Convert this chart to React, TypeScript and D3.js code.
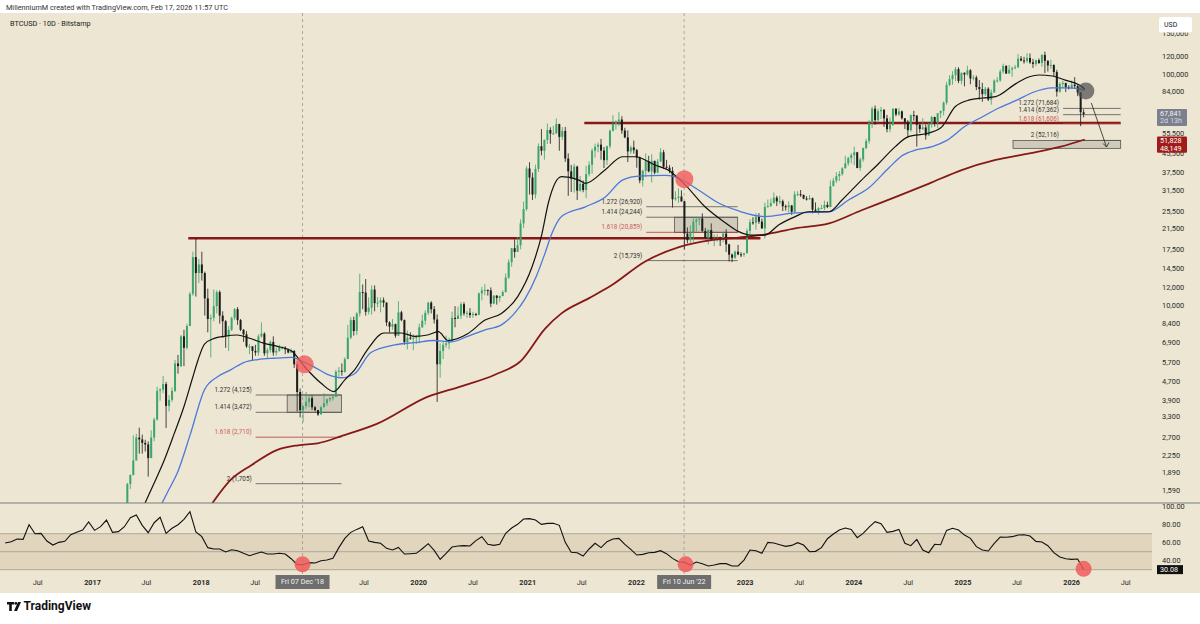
import React from 'react'
import * as d3 from 'd3'

// [high, low, close] per 10-day bar; open is previous close
type Bar = [number, number, number]

const FIRST_BAR = '2017-04-18'
const FIRST_OPEN = 1190
const BAR_DAYS = 10

const bars2017: Bar[] = [
  [1340, 1190, 1330], [1720, 1300, 1700], [1870, 1620, 1860], [2760, 1850, 2150], [2800, 2150, 2700],
  [2980, 2300, 2650], [2780, 2300, 2560], [2640, 2350, 2520], [2600, 1830, 2200], [2900, 2200, 2700],
  [3290, 2600, 3230], [4480, 3200, 4300], [4420, 3900, 4350], [4980, 4200, 4600], [4700, 2970, 3700],
  [4120, 3500, 3930], [4450, 3850, 4300], [5850, 4250, 5650], [6150, 5100, 5500], [7500, 5450, 7400],
  [7900, 5500, 6600], [8400, 6500, 8200], [11500, 8900, 11300], [17200, 11100, 16300], [19666, 11000, 13900],
  [16000, 12600, 15150],
]
const bars2018: Bar[] = [
  [17200, 12900, 13900], [14100, 9100, 10800], [11900, 7700, 8800], [9200, 6000, 8900], [11800, 8600, 10000],
  [11700, 9300, 11500], [11700, 8400, 9100], [9500, 7300, 8600], [8700, 6600, 7400], [8200, 6400, 7900],
  [9000, 7800, 8900], [9800, 8700, 9700], [9900, 8300, 8700], [8800, 7800, 7900], [7950, 7000, 7550],
  [7800, 6600, 6700], [6850, 6200, 6700], [6700, 5800, 6400], [6800, 6100, 6300], [7550, 6100, 7400],
  [8500, 7300, 7600], [7700, 6100, 6250], [6600, 5900, 6450], [7100, 6300, 7000], [7400, 6100, 6300],
  [6600, 6100, 6400], [6800, 6350, 6600], [6700, 6500, 6600], [6700, 6200, 6500], [6550, 6250, 6300],
  [6550, 6250, 6400], [6450, 5400, 5600], [5600, 3500, 4250], [4400, 3300, 3550], [3700, 3150, 3700],
  [4250, 3600, 3850], [4100, 3650, 4000],
]
const bars2019: Bar[] = [
  [4100, 3550, 3650], [3700, 3500, 3550], [3550, 3350, 3400], [3700, 3400, 3650], [4200, 3650, 3800],
  [3980, 3700, 3950], [4050, 3850, 4000], [4100, 3900, 4050], [5300, 4050, 5200], [5450, 4950, 5250],
  [5650, 5000, 5200], [6000, 5150, 5900], [8300, 5900, 7300], [8950, 7200, 8700], [9000, 7450, 7800],
  [9400, 7500, 9300], [13800, 9000, 11500], [12400, 9700, 11450], [13100, 9100, 9450], [10900, 9200, 9850],
  [12300, 9200, 11800], [12300, 9500, 10300], [10950, 9900, 10350], [10900, 9400, 10600], [10900, 9900, 10350],
  [10400, 8200, 8500], [8600, 7700, 8150], [8800, 7900, 8350], [8400, 7300, 7450], [10500, 7450, 9400],
  [9550, 8600, 8700], [8750, 6800, 7000], [7850, 6500, 7300], [7700, 7150, 7250], [7550, 6450, 7300],
  [7500, 6850, 7350],
]
const bars2020: Bar[] = [
  [8400, 6900, 8100], [9200, 8050, 8650], [9600, 8300, 9350], [10450, 9150, 10350], [10500, 9300, 9700],
  [10000, 8400, 8750], [9200, 3850, 5600], [6900, 4900, 6400], [7000, 5900, 6800], [7450, 6600, 6900],
  [7300, 6500, 7100], [9450, 7000, 8900], [10000, 8100, 8800], [9950, 8800, 9100], [10400, 8800, 10200],
  [10400, 9100, 9300], [9550, 8900, 9350], [9800, 8900, 9150], [9450, 8900, 9250], [9350, 9050, 9170],
  [11450, 9150, 11350], [12100, 10600, 11700], [12450, 11150, 11750], [11800, 11100, 11700], [12050, 9900, 10250],
  [11150, 10200, 11100], [11150, 10150, 10850], [11100, 10400, 11050], [11700, 11050, 11500], [13850, 11450, 13300],
  [15950, 13100, 15500], [17850, 14800, 17800], [19450, 16200, 17150], [19900, 17600, 18350], [23750, 17600, 22800],
  [28350, 21800, 26300], [40300, 25850, 39400],
]
const bars2021: Bar[] = [
  [41950, 30400, 36000], [37800, 28800, 30400], [40900, 29250, 39250], [50550, 38050, 49200], [58350, 44900, 47000],
  [52600, 43000, 52400], [61700, 50300, 57800], [59400, 50400, 55800], [60200, 55000, 56000], [64850, 55500, 61350],
  [61500, 47000, 54000], [59500, 52300, 57300], [59600, 42100, 43500], [45800, 30000, 38300], [40800, 31200, 35600],
  [41300, 31000, 40150], [40500, 28800, 31600], [36500, 31300, 33800], [35000, 31100, 31800], [40500, 29300, 37250],
  [42300, 36400, 40850], [48100, 37400, 47050], [50500, 43900, 48900], [51000, 46400, 49950], [52900, 43000, 47100],
  [48800, 39600, 42800], [49500, 40800, 49200], [58000, 48100, 57400], [67000, 56900, 61300], [63700, 58000, 63000],
  [69000, 60100, 64150], [66300, 55600, 57500], [59100, 53300, 53700], [57600, 42000, 46700], [49500, 45600, 48600],
  [52000, 45700, 47300],
]
const bars2022: Bar[] = [
  [47900, 39700, 43900], [44400, 34000, 35000], [38900, 32950, 38500], [45800, 36300, 42400], [44700, 37900, 38300],
  [45400, 34300, 42500], [42600, 37200, 37800], [43300, 37600, 42300], [48200, 42000, 46300], [47400, 39200, 40100],
  [42900, 39300, 39700], [40800, 37600, 38500], [40000, 26700, 29000], [31400, 28600, 29400], [32300, 28000, 29800],
  [31700, 28300, 28400], [28500, 17600, 20600], [21900, 18700, 19300], [22400, 18800, 20800], [24200, 19000, 23200],
  [24400, 21000, 23650], [24200, 22400, 23950], [25200, 20900, 21150], [21800, 19550, 19800], [21500, 18500, 21350],
  [22800, 19300, 19400], [20400, 18150, 19400], [20450, 19000, 19450], [19950, 18200, 19350], [21000, 18900, 20600],
  [21500, 17150, 18500], [18600, 15600, 16700], [16900, 15500, 16200], [17400, 16000, 17200], [18400, 16600, 16750],
  [17100, 16300, 16700], [16950, 16350, 16950],
]
const bars2023: Bar[] = [
  [21650, 16900, 21150], [23800, 20400, 23050], [24250, 22500, 22950], [25250, 21400, 24350], [25250, 22700, 23200],
  [23900, 21600, 21700], [28000, 19600, 26900], [28900, 26600, 27150], [29200, 26800, 27900], [31000, 27800, 29450],
  [30000, 27100, 28400], [30000, 27700, 28450], [28900, 25800, 27050], [27500, 25900, 26800], [28450, 25400, 27250],
  [27400, 24800, 25600], [31400, 25300, 30450], [31400, 29900, 30500], [31800, 29700, 30300], [30350, 29000, 29200],
  [29900, 28650, 29050], [30200, 28800, 29300], [29500, 25200, 26150], [28100, 25400, 25850], [26800, 24900, 26550],
  [27450, 26350, 26550], [28600, 26000, 27400], [28300, 26550, 26850], [35000, 26800, 33000], [35900, 33400, 34900],
  [37950, 34100, 36500], [38400, 34750, 37300], [39900, 36700, 39450], [44700, 39600, 41450], [44300, 40500, 43700],
  [45900, 41500, 45000],
]
const bars2024: Bar[] = [
  [49000, 40750, 46300], [46500, 39500, 39600], [43900, 38500, 43100], [48600, 42100, 48300], [53000, 47700, 51800],
  [64000, 50500, 62000], [72900, 59000, 71500], [73800, 60800, 63800], [71500, 62300, 69700], [72800, 64500, 70600],
  [71300, 59600, 64900], [67200, 56500, 58300], [65500, 56500, 60800], [71900, 60200, 71400], [71900, 66300, 67500],
  [71950, 66500, 69600], [70200, 64100, 65000], [65000, 58400, 62700], [63800, 53500, 57700], [67400, 56900, 67100],
  [70000, 63400, 66800], [66900, 49000, 60900], [62000, 56200, 58400], [65000, 57800, 59300], [61100, 52500, 54800],
  [61800, 54600, 61700], [66500, 59200, 65800], [66000, 59800, 62200], [68400, 58900, 68300], [70200, 65200, 69900],
  [76900, 66800, 75900], [93500, 74400, 90600], [99700, 89500, 96000], [103900, 90800, 99800], [108300, 94200, 106000],
  [108000, 92200, 94300], [102500, 91300, 102200],
]
const bars2025: Bar[] = [
  [102700, 89300, 100500], [109600, 99500, 104800], [106000, 91200, 96600], [100000, 94800, 97500], [99400, 86000, 88700],
  [95000, 78200, 86900], [92500, 76600, 82600], [88800, 81200, 87200], [88500, 77100, 78300], [86500, 74400, 84000],
  [95700, 83800, 94600], [97900, 92800, 94700], [105700, 93400, 103500], [111900, 101500, 109400], [110400, 101000, 101500],
  [110500, 101100, 105500], [108900, 98200, 107000], [110500, 106000, 108000], [123200, 107500, 117700], [120800, 114700, 115500],
  [119800, 112000, 115000], [124400, 112800, 118500], [124000, 111700, 113400], [117400, 107300, 111700], [116300, 109300, 115900],
  [117900, 111600, 112700], [122900, 108600, 122200], [126200, 102000, 115100], [116000, 103500, 110000], [116400, 106300, 110500],
  [111200, 98900, 103000], [105300, 80600, 84700], [93100, 83800, 91400], [94600, 87600, 92500], [90600, 84400, 88500],
  [90400, 86600, 87500],
]
const bars2026: Bar[] = [
  [94700, 87200, 90800], [97900, 87200, 89500], [90500, 81000, 84000], [84500, 60100, 69000], [71000, 65500, 67841],
]

// moving averages: [decimal year, price]
const maBlack: [number, number][] = [
  [2017.45, 1300], [2017.55, 1650], [2017.66, 2160], [2017.75, 2800], [2017.84, 3670], [2017.92, 4900],
  [2017.97, 5850], [2018.03, 6850], [2018.12, 7250], [2018.21, 7400], [2018.33, 7500], [2018.43, 7300],
  [2018.58, 6900], [2018.7, 6700], [2018.83, 6400], [2018.96, 5400], [2019.1, 4650], [2019.22, 4270],
  [2019.32, 4800], [2019.41, 5300], [2019.53, 6500], [2019.68, 7650], [2019.84, 7650], [2019.96, 7400],
  [2020.08, 7500], [2020.18, 7750], [2020.27, 7100], [2020.45, 7600], [2020.61, 8700], [2020.76, 9300],
  [2020.91, 11000], [2021.04, 14800], [2021.13, 20500], [2021.19, 28000], [2021.31, 36300], [2021.47, 35100],
  [2021.53, 34000], [2021.71, 38800], [2021.87, 44300], [2021.99, 44300], [2022.17, 40800], [2022.29, 38800],
  [2022.45, 33400], [2022.63, 26900], [2022.82, 22900], [2022.94, 21000], [2023.05, 20300], [2023.18, 20300],
  [2023.31, 22500], [2023.46, 24400], [2023.58, 25600], [2023.77, 25600], [2023.89, 28800], [2024.07, 35100],
  [2024.23, 41500], [2024.38, 49000], [2024.5, 54100], [2024.69, 56100], [2024.81, 59800], [2024.93, 72900],
  [2025.06, 78000], [2025.18, 79500], [2025.3, 80600], [2025.49, 92000], [2025.61, 98300], [2025.7, 100000],
  [2025.82, 99000], [2025.94, 95000], [2026.07, 90500], [2026.12, 87000],
]
const maBlue: [number, number][] = [
  [2017.62, 1350], [2017.7, 1600], [2017.78, 1900], [2017.9, 2800], [2018.03, 4350], [2018.15, 4950],
  [2018.27, 5300], [2018.39, 5700], [2018.52, 5870], [2018.67, 5950], [2018.83, 6000], [2018.92, 5800],
  [2019.04, 5450], [2019.16, 5070], [2019.29, 4900], [2019.41, 5100], [2019.56, 6300], [2019.78, 6800],
  [2019.96, 6950], [2020.14, 7100], [2020.3, 7000], [2020.45, 7400], [2020.61, 7900], [2020.76, 8300],
  [2020.88, 9300], [2020.98, 10800], [2021.08, 13500], [2021.16, 17000], [2021.22, 20500], [2021.31, 24400],
  [2021.53, 26900], [2021.71, 29600], [2021.87, 35100], [2022.02, 36500], [2022.26, 36800], [2022.35, 36300],
  [2022.57, 31800], [2022.75, 28000], [2022.94, 25800], [2023.18, 24400], [2023.46, 25300], [2023.77, 25600],
  [2023.95, 28800], [2024.14, 32600], [2024.32, 39600], [2024.45, 45000], [2024.57, 47400], [2024.72, 49000],
  [2024.85, 52000], [2025.02, 60000], [2025.18, 66000], [2025.33, 72000], [2025.5, 78000], [2025.64, 84000],
  [2025.82, 88000], [2025.98, 88000], [2026.12, 86000],
]
const maRed: [number, number][] = [
  [2018.1, 1400], [2018.27, 1770], [2018.46, 2050], [2018.7, 2390], [2018.89, 2500], [2019.07, 2550],
  [2019.3, 2750], [2019.62, 3100], [2020.08, 4050], [2020.39, 4500], [2020.7, 5050], [2020.94, 5800],
  [2021.16, 8000], [2021.31, 9300], [2021.56, 10800], [2021.77, 12300], [2022.08, 15600], [2022.39, 18000],
  [2022.69, 19300], [2022.94, 19800], [2023.18, 20400], [2023.46, 21700], [2023.77, 22800], [2024.07, 26000],
  [2024.38, 29600], [2024.69, 33900], [2024.99, 38800], [2025.3, 42900], [2025.61, 45800], [2025.9, 49000],
  [2026.12, 52600],
]

// RSI, one reading every 20 days
const RSI_START = '2016-03-14'
const RSI_STEP_DAYS = 20
const rsiValues = [
  59.6, 61.1, 64.1, 63.7, 80, 70, 70.4, 61.9, 57.4, 60.4,
  61.5, 68.9, 71.5, 74.1, 83, 73.7, 77.8, 85.2, 71.5, 72.3,
  77.8, 87.8, 90.7, 79.3, 71.1, 82.2, 88.2, 70.4, 76, 80,
  86, 94.5, 71.9, 66.7, 54.5, 53, 53, 49.7, 52.2, 51.1,
  48.2, 45.6, 47.8, 49.7, 47.4, 47.4, 48.2, 47.4, 42.2, 35.6,
  35.6, 37.8, 37.4, 40, 40.7, 42.6, 54.5, 64.8, 71.5, 74.8,
  77.8, 61.9, 60.4, 59.3, 53.7, 51.9, 54.8, 47.4, 47.8, 48.2,
  53.3, 58.9, 51.5, 41.5, 48.2, 55.2, 56.3, 56.7, 56.3, 62.3,
  66.7, 58.2, 57, 58.2, 70.4, 76.3, 80.4, 86.3, 86.7, 85.2,
  80.4, 81.5, 81.5, 79.3, 60.4, 49.3, 48.9, 45.2, 53, 59.3,
  54.5, 61.1, 64.1, 64.8, 58.2, 52.6, 46.3, 47, 48.9, 49.3,
  51.1, 47.8, 42.6, 38.9, 38.1, 35.2, 38.5, 36.7, 34.1, 35.2,
  36.7, 36.7, 34.1, 34.1, 40.7, 51.9, 51.1, 48.2, 60.4, 59.6,
  57.8, 55.9, 57, 60, 57.4, 50, 50.4, 54.5, 64.4, 69.6,
  74.1, 76.3, 74.8, 65.6, 70.4, 77.4, 83.4, 81.1, 71.5, 72.6,
  74.8, 59.3, 56.7, 63.7, 51.9, 48.9, 58.2, 57.8, 73.7, 76,
  74.1, 68.5, 64.8, 55.6, 51.9, 50.8, 59.3, 66.3, 66, 66.7,
  68.5, 68.9, 67.4, 61.5, 60.7, 56.7, 48.9, 44.1, 42.2, 41.5,
  41.9, 30.08,
]

const priceTicks = [150000, 120000, 100000, 84000, 55500, 45500, 37500, 31500, 25500, 21500, 17500, 14500,
  12000, 10000, 8400, 6900, 5700, 4700, 3900, 3300, 2700, 2250, 1890, 1590]
const rsiTicks = [100, 80, 60, 40]
const dateTicks: [string, string, boolean][] = [
  ['2016-07-01', 'Jul', false], ['2017-01-01', '2017', true], ['2017-07-01', 'Jul', false],
  ['2018-01-01', '2018', true], ['2018-07-01', 'Jul', false], ['2019-07-01', 'Jul', false],
  ['2020-01-01', '2020', true], ['2020-07-01', 'Jul', false], ['2021-01-01', '2021', true],
  ['2021-07-01', 'Jul', false], ['2022-01-01', '2022', true], ['2023-01-01', '2023', true],
  ['2023-07-01', 'Jul', false], ['2024-01-01', '2024', true], ['2024-07-01', 'Jul', false],
  ['2025-01-01', '2025', true], ['2025-07-01', 'Jul', false], ['2026-01-01', '2026', true],
  ['2026-07-01', 'Jul', false],
]
const markedDates: [string, string][] = [['2018-12-07', "Fri 07 Dec '18"], ['2022-06-10', "Fri 10 Jun '22"]]

// fib extension groups: levels [ratio, price], line span, box span
const fibGroups = [
  { levels: [[1.272, 4125], [1.414, 3472], [1.618, 2710], [2, 1705]], from: 2018.5, to: 2019.29, boxFrom: 2018.79, boxTop: 4125, boxBottom: 3472 },
  { levels: [[1.272, 26920], [1.414, 24244], [1.618, 20859], [2, 15739]], from: 2022.09, to: 2022.93, boxFrom: 2022.35, boxTop: 24244, boxBottom: 20859 },
  { levels: [[1.272, 71684], [1.414, 67362], [1.618, 61606], [2, 52116]], from: 2025.92, to: 2026.45, boxFrom: 2025.46, boxTop: 52116, boxBottom: 48149 },
]
const levelLines: [number, number, number][] = [[19666, 2017.88, 2023.14], [62000, 2021.52, 2026.45]]
const priceCircles: [number, number][] = [[2018.95, 5600], [2022.44, 35400]]
const rsiCircles: [string, number][] = [['2018-12-07', 36], ['2022-06-15', 36], ['2026-02-10', 31]]

const BG = '#ece6d2'
const FONT = 'Roboto, "Liberation Sans", Arial, sans-serif'

const utc = (s: string) => new Date(s + 'T00:00:00Z')
const yd = (v: number) => {
  const yr = Math.floor(v)
  return new Date(Date.UTC(yr, 0, 1) + (v - yr) * 365.25 * 864e5)
}
const fmt = d3.format(',')

export default function App() {
  const x = d3.scaleUtc().domain([utc('2017-01-01'), utc('2026-01-01')]).range([92.5, 1071.7])
  const y = d3.scaleLog().domain([1590, 120000]).range([490.7, 56.7])
  const yR = d3.scaleLinear().domain([0, 100]).range([596.7, 506.7])

  const all = [...bars2017, ...bars2018, ...bars2019, ...bars2020, ...bars2021, ...bars2022, ...bars2023, ...bars2024, ...bars2025, ...bars2026]
  const t0 = utc(FIRST_BAR).getTime()
  const bars = all.map((b, i) => ({
    date: new Date(t0 + i * BAR_DAYS * 864e5),
    open: i === 0 ? FIRST_OPEN : all[i - 1][2],
    high: b[0], low: b[1], close: b[2],
  }))

  const r0 = utc(RSI_START).getTime()
  const rsi = rsiValues.map((v, i) => ({ date: new Date(r0 + i * RSI_STEP_DAYS * 864e5), v }))

  const maLine = d3.line<[number, number]>().x(d => x(yd(d[0]))).y(d => y(d[1])).curve(d3.curveMonotoneX)
  const rsiLine = d3.line<{ date: Date, v: number }>().x(d => x(d.date)).y(d => yR(d.v))

  const lastPrice = bars[bars.length - 1].close

  return (
    <svg width={1200} height={624} style={{ position: 'absolute', left: 0, top: 0, fontFamily: FONT }}>
      <defs>
        <clipPath id="main"><rect x={0} y={13} width={1152} height={490} /></clipPath>
        <clipPath id="rsi"><rect x={0} y={503} width={1152} height={74} /></clipPath>
      </defs>
      <rect width={1200} height={624} fill="#fff" />
      <rect x={0} y={13} width={1200} height={580} fill={BG} />
      <text x={6} y={8} fontSize={7.3} fill="#333" dominantBaseline="middle">MillenniumM created with TradingView.com, Feb 17, 2026 11:57 UTC</text>
      <text x={10} y={24} fontSize={7.3} fill="#222" dominantBaseline="middle">BTCUSD · 10D · Bitstamp</text>

      {/* RSI band */}
      <g clipPath="url(#rsi)">
        <rect x={0} y={yR(70)} width={1155} height={yR(30) - yR(70)} fill="#b38b5d" opacity={0.18} />
        {[70, 50, 30].map(v => (
          <line key={v} x1={0} x2={1155} y1={yR(v)} y2={yR(v)} stroke="#a39a8a" strokeWidth={0.8} />
        ))}
      </g>

      {/* crosshair verticals */}
      {markedDates.map(([d]) => (
        <line key={d} x1={x(utc(d))} x2={x(utc(d))} y1={13} y2={575} stroke="#8e8e8e" strokeWidth={0.7} strokeDasharray="3,3" />
      ))}

      <g clipPath="url(#main)">
        {/* level lines */}
        {levelLines.map(([p, a, b]) => (
          <line key={p} x1={x(yd(a))} x2={x(yd(b))} y1={y(p)} y2={y(p)} stroke="#8a1717" strokeWidth={2.4} />
        ))}
        {/* fib extensions */}
        {fibGroups.map((g, gi) => (
          <g key={gi}>
            <rect x={x(yd(g.boxFrom))} y={y(g.boxTop)} width={x(yd(g.to)) - x(yd(g.boxFrom))} height={y(g.boxBottom) - y(g.boxTop)}
              fill="#9b968c" fillOpacity={0.35} stroke="#555" strokeWidth={0.8} />
            {g.levels.map(([r, p]) => {
              const red = r === 1.618
              return (
                <g key={r}>
                  <line x1={x(yd(g.from))} x2={x(yd(g.to))} y1={y(p)} y2={y(p)} stroke={red ? '#b33a3a' : '#555'} strokeWidth={0.8} />
                  <text x={x(yd(g.from)) - 4} y={y(p) - 3} fontSize={6.3} textAnchor="end" fill={red ? '#cc5a5a' : '#333'}>
                    {`${r} (${fmt(p)})`}
                  </text>
                </g>
              )
            })}
          </g>
        ))}

        {/* candles */}
        {bars.map((b, i) => {
          const cx = x(b.date)
          const up = b.close >= b.open
          const col = up ? '#3ba56c' : '#1b1b1b'
          const top = y(Math.max(b.open, b.close))
          const bot = y(Math.min(b.open, b.close))
          return (
            <g key={i}>
              <line x1={cx} x2={cx} y1={y(b.high)} y2={y(b.low)} stroke={col} strokeWidth={0.8} />
              <rect x={cx - 1} y={top} width={2} height={Math.max(1, bot - top)} fill={col} />
            </g>
          )
        })}

        {/* moving averages */}
        <path d={maLine(maRed) ?? ''} fill="none" stroke="#861818" strokeWidth={1.8} />
        <path d={maLine(maBlue) ?? ''} fill="none" stroke="#4a78dc" strokeWidth={1.3} />
        <path d={maLine(maBlack) ?? ''} fill="none" stroke="#111" strokeWidth={1.2} />

        {priceCircles.map(([t, p]) => (
          <circle key={t} cx={x(yd(t))} cy={y(p)} r={9} fill="#f05a5a" fillOpacity={0.8} />
        ))}
        <circle cx={x(yd(2026.13))} cy={y(85300)} r={8.5} fill="#4a4a4a" fillOpacity={0.7} />

        {/* arrow */}
        <line x1={x(yd(2026.18))} y1={y(75700)} x2={x(yd(2026.32))} y2={y(48800)} stroke="#222" strokeWidth={0.8} />
        <path d={`M${x(yd(2026.32)) - 3.5},${y(48800) - 3.5} L${x(yd(2026.32))},${y(48800)} L${x(yd(2026.32)) + 2.5},${y(48800) - 4.5}`}
          fill="none" stroke="#222" strokeWidth={0.8} />
      </g>

      {/* pane separator */}
      <line x1={0} x2={1200} y1={503} y2={503} stroke="#7d7d7d" strokeWidth={1} />

      <g clipPath="url(#rsi)">
        <path d={rsiLine(rsi) ?? ''} fill="none" stroke="#111" strokeWidth={1.1} />
        {rsiCircles.map(([d, v]) => (
          <circle key={d} cx={x(utc(d))} cy={yR(v)} r={8} fill="#f05a5a" fillOpacity={0.85} />
        ))}
      </g>

      {/* price axis */}
      {priceTicks.map(p => (
        <text key={p} x={1162} y={y(p)} fontSize={7.4} fill="#2b2b2b" dominantBaseline="middle">{fmt(p)}</text>
      ))}
      <rect x={1159} y={17} width={33} height={15.5} rx={2} fill="#fff" />
      <text x={1164} y={24.8} fontSize={7} fill="#222" dominantBaseline="middle">USD</text>

      <rect x={1157} y={y(lastPrice) - 5} width={30} height={17} rx={1} fill="#7c808e" />
      <text x={1160} y={y(lastPrice)} fontSize={7.2} fill="#eef0f4" dominantBaseline="middle">{fmt(lastPrice)}</text>
      <text x={1160} y={y(lastPrice) + 7.5} fontSize={7.2} fill="#d6d9e0" dominantBaseline="middle">2d 13h</text>

      <rect x={1157} y={y(51828) - 4.5} width={30} height={y(48149) - y(51828) + 9} rx={1} fill="#a11b1b" />
      <text x={1160} y={y(51828)} fontSize={7.2} fill="#fff" dominantBaseline="middle">{fmt(51828)}</text>
      <text x={1160} y={y(48149) + 0.3} fontSize={7.2} fill="#fff" dominantBaseline="middle">{fmt(48149)}</text>

      {/* rsi axis */}
      {rsiTicks.map(v => (
        <text key={v} x={1162} y={yR(v)} fontSize={7.4} fill="#2b2b2b" dominantBaseline="middle">{v.toFixed(2)}</text>
      ))}
      <rect x={1157} y={yR(30.08) - 4.5} width={26} height={9} fill="#111" />
      <text x={1160} y={yR(30.08) + 0.3} fontSize={7.2} fill="#fff" dominantBaseline="middle">30.08</text>

      {/* time axis */}
      {dateTicks.map(([d, label, bold]) => (
        <text key={d} x={x(utc(d))} y={583} fontSize={7.3} textAnchor="middle" dominantBaseline="middle"
          fill="#2b2b2b" fontWeight={bold ? 700 : 400}>{label}</text>
      ))}
      {markedDates.map(([d, label]) => (
        <g key={d}>
          <rect x={x(utc(d)) - 27} y={575} width={54} height={14} fill="#6e6e6e" />
          <text x={x(utc(d))} y={582.3} fontSize={7.2} textAnchor="middle" dominantBaseline="middle" fill="#f2f2f2">{label}</text>
        </g>
      ))}

      {/* logo */}
      <path d="M7 602 h7 v2.6 h-2.2 v6.4 h-2.6 v-6.4 h-2.2 z" fill="#111" />
      <circle cx={15.8} cy={603.4} r={1.4} fill="#111" />
      <path d="M18 602 h3 l-4 9 h-3 z" fill="#111" />
      <text x={23.5} y={607} fontSize={12} fontWeight={700} fill="#111" dominantBaseline="middle">TradingView</text>
    </svg>
  )
}
